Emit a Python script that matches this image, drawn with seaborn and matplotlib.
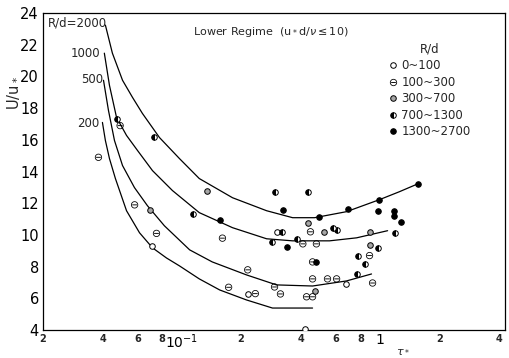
import matplotlib
matplotlib.use("Agg")
import pandas as pd
import matplotlib.pyplot as plt
from matplotlib.lines import Line2D
from matplotlib.ticker import FixedLocator, FixedFormatter
import seaborn as sns

# ===== curves of constant R/d =====
CURVE_2000_X = [0.0413, 0.0448, 0.0504, 0.0566, 0.0635, 0.0774, 0.0977, 0.123, 0.181, 0.269, 0.364, 0.470, 0.681, 1.0, 1.26, 1.57]
CURVE_2000_Y = [23.24, 21.47, 19.76, 18.68, 17.67, 16.15, 14.82, 13.56, 12.35, 11.53, 11.09, 11.09, 11.47, 12.23, 12.73, 13.24]

CURVE_1000_X = [0.0408, 0.0433, 0.0470, 0.0528, 0.0600, 0.0714, 0.0901, 0.123, 0.181, 0.269, 0.364, 0.559, 0.766, 1.098]
CURVE_1000_Y = [21.47, 19.44, 17.42, 16.28, 15.33, 14.06, 12.80, 11.41, 10.46, 9.76, 9.63, 9.63, 9.82, 10.27]

CURVE_500_X = [0.0404, 0.0428, 0.0459, 0.0504, 0.0579, 0.0673, 0.0820, 0.110, 0.143, 0.213, 0.302, 0.459, 0.681, 0.911]
CURVE_500_Y = [19.76, 17.86, 15.96, 14.38, 12.99, 11.85, 10.58, 9.06, 8.30, 7.48, 6.85, 6.78, 7.10, 7.54]

CURVE_200_X = [0.0399, 0.0413, 0.0433, 0.0464, 0.0528, 0.0614, 0.0714, 0.0840, 0.0977, 0.123, 0.156, 0.213, 0.288, 0.459]
CURVE_200_Y = [17.10, 15.96, 14.82, 13.56, 11.53, 10.14, 9.19, 8.55, 8.05, 7.23, 6.53, 5.90, 5.39, 5.39]

# ===== measured points, grouped by R/d =====
RD_0_100_X = [0.0714, 0.216, 0.305, 0.68, 0.418]
RD_0_100_Y = [9.3, 6.3, 10.2, 6.9, 4.05]

RD_100_300_X = [0.0381, 0.049, 0.058, 0.0748, 0.161, 0.216, 0.173, 0.236, 0.448, 0.41, 0.48,
                0.89, 0.459, 0.922, 0.459, 0.546, 0.607, 0.295, 0.316, 0.428, 0.459]
RD_100_300_Y = [14.9, 16.9, 11.9, 10.1, 9.8, 7.8, 6.7, 6.3, 10.2, 9.44, 9.44,
                8.7, 8.3, 6.97, 7.23, 7.23, 7.23, 6.72, 6.28, 6.1, 6.1]

RD_300_700_X = [0.0697, 0.135, 0.433, 0.527, 0.89, 0.89, 0.47]
RD_300_700_Y = [11.6, 12.8, 10.77, 10.2, 10.2, 9.38, 6.47]

RD_700_1300_X = [0.047, 0.073, 0.1137, 0.298, 0.433, 0.32, 0.579, 0.607, 1.19, 0.285, 0.385,
                 0.977, 0.774, 0.84, 0.765]
RD_700_1300_Y = [17.3, 16.2, 11.3, 12.7, 12.7, 10.2, 10.45, 10.3, 10.1, 9.57, 9.76,
                 9.2, 8.7, 8.2, 7.55]

RD_1300_2700_X = [0.156, 0.327, 0.497, 0.689, 0.989, 0.977, 1.18, 1.18, 1.29, 1.57, 0.343, 0.48]
RD_1300_2700_Y = [10.96, 11.6, 11.15, 11.66, 12.2, 11.5, 11.5, 11.2, 10.8, 13.2, 9.25, 8.3]

GROUP_LABELS = ["0~100", "100~300", "300~700", "700~1300", "1300~2700"]

X_MAJOR = [0.1, 1]
X_MAJOR_LABELS = ["$10^{-1}$", "1"]
X_MINOR = [0.02, 0.03, 0.04, 0.05, 0.06, 0.07, 0.08, 0.09, 0.2, 0.3, 0.4, 0.5, 0.6, 0.7, 0.8, 0.9, 2, 3, 4]
X_MINOR_LABELS = ["2", "", "4", "", "6", "", "8", "", "2", "", "4", "", "6", "", "8", "", "2", "", "4"]
Y_TICKS = list(range(4, 25, 2))

sns.set_style("white")
plt.rcParams["font.family"] = ["DejaVu Sans"]
plt.rcParams["mathtext.fontset"] = "dejavusans"

fig = plt.figure(figsize=(5.09, 3.58), dpi=100)
ax = fig.add_axes([0.0845, 0.078, 0.9077, 0.8855])

curves = [(CURVE_2000_X, CURVE_2000_Y), (CURVE_1000_X, CURVE_1000_Y),
          (CURVE_500_X, CURVE_500_Y), (CURVE_200_X, CURVE_200_Y)]
for cx, cy in curves:
    sns.lineplot(x=cx, y=cy, sort=False, estimator=None, color="black", lw=0.9, ax=ax)

ms = 4.0
sns.scatterplot(x=RD_0_100_X, y=RD_0_100_Y, marker="o", s=ms ** 2, facecolor="white",
                edgecolor="black", linewidth=0.7, ax=ax, zorder=3)
sns.scatterplot(x=RD_100_300_X, y=RD_100_300_Y, marker="$\\ominus$", s=(ms * 1.3) ** 2,
                color="black", edgecolor="none", linewidth=0, ax=ax, zorder=3)
sns.scatterplot(x=RD_300_700_X, y=RD_300_700_Y, marker="o", s=ms ** 2, facecolor="0.65",
                edgecolor="black", linewidth=0.7, ax=ax, zorder=3)
ax.plot(RD_700_1300_X, RD_700_1300_Y, ls="none", marker="o", ms=ms, fillstyle="left",
        mfc="black", markerfacecoloralt="white", mec="black", mew=0.7, zorder=3)
sns.scatterplot(x=RD_1300_2700_X, y=RD_1300_2700_Y, marker="o", s=ms ** 2, facecolor="black",
                edgecolor="black", linewidth=0.7, ax=ax, zorder=3)

ax.set_xscale("log")
ax.set_xlim(0.02, 4.3)
ax.set_ylim(4, 24)
ax.xaxis.set_major_locator(FixedLocator(X_MAJOR))
ax.xaxis.set_major_formatter(FixedFormatter(X_MAJOR_LABELS))
ax.xaxis.set_minor_locator(FixedLocator(X_MINOR))
ax.xaxis.set_minor_formatter(FixedFormatter(X_MINOR_LABELS))
ax.tick_params(axis="x", which="major", direction="in", length=10, width=0.9, labelsize=10, pad=2)
ax.tick_params(axis="x", which="minor", direction="in", length=5, width=0.8, labelsize=7, pad=3)
for lbl in ax.get_xticklabels(minor=True):
    lbl.set_fontweight("bold")
ax.set_yticks(Y_TICKS)
ax.tick_params(axis="y", which="major", direction="in", length=9, width=0.8, labelsize=10.5, pad=3)
ax.tick_params(axis="both", colors="black")
for sp in ax.spines.values():
    sp.set_color("black")
    sp.set_linewidth(0.9)
ax.set_xlabel("")
ax.set_ylabel("")

# labels of the curves
ax.text(0.011, 0.968, "R/d=2000", transform=ax.transAxes, fontsize=8.5, ha="left", va="center")
ax.text(0.123, 0.874, "1000", transform=ax.transAxes, fontsize=8.5, ha="right", va="center")
ax.text(0.130, 0.789, "500", transform=ax.transAxes, fontsize=8.5, ha="right", va="center")
ax.text(0.123, 0.653, "200", transform=ax.transAxes, fontsize=8.5, ha="right", va="center")
ax.text(0.325, 0.940, "Lower Regime  (u$_*$d/$\\nu$$\\leq$10)", transform=ax.transAxes,
        fontsize=8, ha="left", va="center")

fig.text(0.026, 0.74, "U/u$_*$", rotation=90, fontsize=10.5, ha="center", va="center")
fig.text(0.792, 0.006, "$\\tau_*$", fontsize=8, ha="center", va="bottom")

handles = [
    Line2D([], [], ls="none", marker="o", ms=ms, mfc="white", mec="black", mew=0.7),
    Line2D([], [], ls="none", marker="$\\ominus$", ms=ms * 1.3, mfc="black", mec="none"),
    Line2D([], [], ls="none", marker="o", ms=ms, mfc="0.65", mec="black", mew=0.7),
    Line2D([], [], ls="none", marker="o", ms=ms, fillstyle="left", mfc="black",
           markerfacecoloralt="white", mec="black", mew=0.7),
    Line2D([], [], ls="none", marker="o", ms=ms, mfc="black", mec="black", mew=0.7),
]
leg = ax.legend(handles, GROUP_LABELS, title="R/d", loc="upper left", bbox_to_anchor=(0.735, 0.925),
                frameon=False, fontsize=8.5, title_fontsize=8.5, handletextpad=0.3, labelspacing=0.3,
                handlelength=0.8, borderpad=0)

fig.savefig("out.png", dpi=100)
